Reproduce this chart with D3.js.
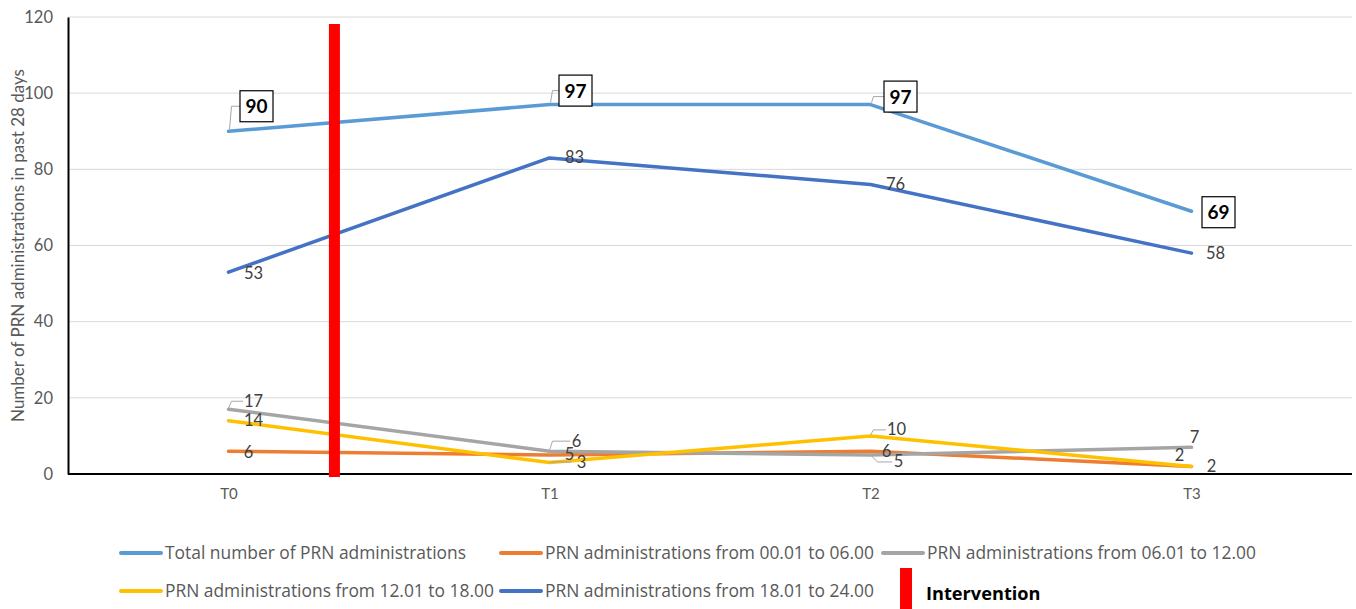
<!DOCTYPE html>
<html>
<head>
<meta charset="utf-8">
<script src="https://cdn.jsdelivr.net/npm/d3@7"></script>
<style>
  html, body { margin: 0; padding: 0; background: #fff; }
  svg { display: block; font-family: Lato, "Open Sans", sans-serif; }
</style>
</head>
<body>
<svg id="chart" width="1356" height="609"></svg>
<script>
// Time points and PRN administration counts over the past 28 days
const timepoints = ["T0", "T1", "T2", "T3"];
const totalPRN = [90, 97, 97, 69];
const prn0001to0600 = [6, 5, 6, 2];
const prn0601to1200 = [17, 6, 5, 7];
const prn1201to1800 = [14, 3, 10, 2];
const prn1801to2400 = [53, 83, 76, 58];
const yTicks = [0, 20, 40, 60, 80, 100, 120];
const interventionAt = 0.33; // fraction of the way from T0 to T1

const series = [
  { name: "Total number of PRN administrations", values: totalPRN, color: "#5B9BD5", boxed: true,
    // label offsets (dx, dy) and optional leader flag per point
    labels: [[28, -25, true], [26, -14, true], [30, -8, true], [27, 1, false]] },
  { name: "PRN administrations from 00.01 to 06.00", values: prn0001to0600, color: "#ED7D31",
    labels: [[20, 1, false], [20, 0, "under"], [16, 0, false], [-12, -11, false]] },
  { name: "PRN administrations from 06.01 to 12.00", values: prn0601to1200, color: "#A5A5A5",
    labels: [[25, -8, true], [27, -10, true], [28, 7, "down"], [3, -10, false]] },
  { name: "PRN administrations from 12.01 to 18.00", values: prn1201to1800, color: "#FFC000",
    labels: [[25, 0, false], [32, 0, false], [26, -6, true], [20, 0, false]] },
  { name: "PRN administrations from 18.01 to 24.00", values: prn1801to2400, color: "#4472C4",
    labels: [[25, 1, false], [25, 0, false], [25, 0, false], [24, 0, false]] }
];

const svg = d3.select("#chart");
const margin = { left: 68, right: 4, top: 17, bottom: 135 };
const W = 1356, H = 609;

const x = d3.scalePoint().domain(timepoints).range([margin.left, W - margin.right]).padding(0.5);
const y = d3.scaleLinear().domain([0, 120]).range([H - margin.bottom, margin.top]);

const textGray = "#595959";

// Gridlines
svg.append("g")
  .selectAll("line")
  .data(yTicks.filter(d => d > 0))
  .join("line")
  .attr("x1", margin.left).attr("x2", W - margin.right)
  .attr("y1", d => y(d)).attr("y2", d => y(d))
  .attr("stroke", "#D9D9D9").attr("stroke-width", 1);

// Y axis
const yAxis = svg.append("g")
  .attr("transform", `translate(${margin.left},0)`)
  .call(d3.axisLeft(y).tickValues(yTicks).tickSize(0).tickPadding(15));
yAxis.select(".domain").attr("stroke", "#000").attr("stroke-width", 2);
yAxis.selectAll("text").attr("fill", textGray).style("font-size", "16.5px").style("font-family", "Lato, sans-serif");

// X axis
const xAxis = svg.append("g")
  .attr("transform", `translate(0,${y(0)})`)
  .call(d3.axisBottom(x).tickSize(0).tickPadding(14));
xAxis.select(".domain").attr("stroke", "#000").attr("stroke-width", 2)
  .attr("d", `M${margin.left},0H${W - margin.right}`);
xAxis.selectAll("text").attr("fill", textGray).style("font-size", "15px").style("font-family", "Lato, sans-serif");

// Y axis title
svg.append("text")
  .attr("transform", `translate(24,${(y(0) + y(120)) / 2}) rotate(-90)`)
  .attr("text-anchor", "middle")
  .attr("fill", textGray)
  .style("font-size", "17px")
  .text("Number of PRN administrations in past 28 days");

// Lines
const line = d3.line().x((d, i) => x(timepoints[i])).y(d => y(d));
svg.append("g")
  .selectAll("path")
  .data(series)
  .join("path")
  .attr("d", s => line(s.values))
  .attr("fill", "none")
  .attr("stroke", s => s.color)
  .attr("stroke-width", 3.5)
  .attr("stroke-linejoin", "round")
  .attr("stroke-linecap", "round");

// Intervention marker
const xInt = x("T0") + (x("T1") - x("T0")) * interventionAt;
svg.append("rect")
  .attr("x", xInt - 5.5).attr("width", 11)
  .attr("y", 24).attr("height", y(0) + 3 - 24)
  .attr("fill", "#FF0000");

// Data labels with leader lines
const labelG = svg.append("g");
series.forEach(s => {
  s.values.forEach((v, i) => {
    const px = x(timepoints[i]), py = y(v);
    const [dx, dy, leader] = s.labels[i];
    const lx = px + dx, ly = py + dy;
    if (s.boxed) {
      const bw = 33, bh = 31;
      if (leader) {
        labelG.append("polyline")
          .attr("points", `${px + 1},${py - 2} ${px + 3},${ly} ${lx - bw / 2},${ly}`)
          .attr("fill", "none").attr("stroke", "#A6A6A6").attr("stroke-width", 1);
      }
      labelG.append("rect")
        .attr("x", lx - bw / 2).attr("y", ly - bh / 2)
        .attr("width", bw).attr("height", bh)
        .attr("fill", "#fff").attr("stroke", "#000").attr("stroke-width", 1.2);
      labelG.append("text")
        .attr("x", lx).attr("y", ly + 7)
        .attr("text-anchor", "middle")
        .attr("fill", "#000")
        .style("font-size", "19px").style("font-weight", "bold")
        .text(v);
    } else {
      const txt = String(v);
      const tw = txt.length * 8.5;
      if (leader === true) {
        labelG.append("polyline")
          .attr("points", `${px},${py - 1} ${px + 3},${ly} ${lx - tw / 2 - 2},${ly}`)
          .attr("fill", "none").attr("stroke", "#A6A6A6").attr("stroke-width", 1);
      } else if (leader === "down") {
        labelG.append("polyline")
          .attr("points", `${px},${py} ${px + 7},${ly} ${lx - tw / 2 - 2},${ly}`)
          .attr("fill", "none").attr("stroke", "#A6A6A6").attr("stroke-width", 1);
      } else if (leader === "under") {
        labelG.append("line")
          .attr("x1", px).attr("x2", lx + 2)
          .attr("y1", py + 7).attr("y2", py + 7)
          .attr("stroke", "#A6A6A6").attr("stroke-width", 1.2);
      }
      labelG.append("text")
        .attr("x", lx).attr("y", ly + 5.5)
        .attr("text-anchor", "middle")
        .attr("fill", "#404040")
        .style("font-size", "16.5px")
        .text(txt);
    }
  });
});

// Legend
const legendItems = [
  { name: series[0].name, color: series[0].color, x: 120, y: 553 },
  { name: series[1].name, color: series[1].color, x: 500, y: 553 },
  { name: series[2].name, color: series[2].color, x: 882, y: 553 },
  { name: series[3].name, color: series[3].color, x: 120, y: 591 },
  { name: series[4].name, color: series[4].color, x: 500, y: 591 }
];
const legend = svg.append("g");
legendItems.forEach(d => {
  legend.append("line")
    .attr("x1", d.x + 1).attr("x2", d.x + 41)
    .attr("y1", d.y).attr("y2", d.y)
    .attr("stroke", d.color).attr("stroke-width", 4).attr("stroke-linecap", "round");
  legend.append("text")
    .attr("x", d.x + 45).attr("y", d.y + 6)
    .attr("fill", textGray)
    .style("font-family", "'Open Sans', sans-serif")
    .style("font-size", "17.4px")
    .text(d.name);
});
legend.append("rect")
  .attr("x", 900).attr("y", 568).attr("width", 12).attr("height", 41)
  .attr("fill", "#FF0000");
legend.append("text")
  .attr("x", 926).attr("y", 600)
  .attr("fill", "#000")
  .style("font-family", "'Open Sans', sans-serif")
  .style("font-size", "18.2px").style("font-weight", "bold")
  .text("Intervention");
</script>
</body>
</html>
